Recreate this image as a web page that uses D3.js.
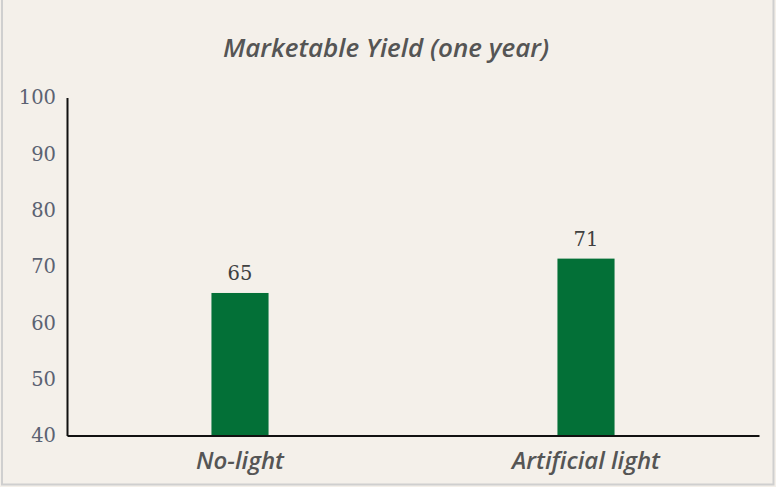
<!DOCTYPE html>
<html><head><meta charset="utf-8">
<script src="https://cdn.jsdelivr.net/npm/d3@7"></script>
<style>html,body{margin:0;padding:0;background:#f4f0ea;}svg{display:block;}</style>
</head><body>
<script>
const categories = ["No-light", "Artificial light"];
const values = [65.3, 71.4];
const valueLabels = ["65", "71"];
const yTicks = [40, 50, 60, 70, 80, 90, 100];
const title = "Marketable Yield (one year)";

const W = 776, H = 487;
const svg = d3.select("body").append("svg").attr("width", W).attr("height", H);
svg.append("rect").attr("x", 0).attr("y", -5).attr("width", W).attr("height", H + 5).attr("fill", "#f4f0ea");
svg.append("rect").attr("x", 2).attr("y", -5).attr("width", W - 4.5).attr("height", H + 2.5)
  .attr("fill", "none").attr("stroke", "#cfcfcf").attr("stroke-width", 2);

const m = {left: 67, right: 759, top: 97.5, bottom: 435.5};
const x = d3.scaleBand().domain(categories).range([m.left, m.right]).paddingInner(0.835).paddingOuter(0.4175);
const y = d3.scaleLinear().domain([40, 100]).range([m.bottom, m.top]);

svg.append("text").attr("x", 386).attr("y", 57).attr("text-anchor", "middle")
  .attr("font-family", "Open Sans").attr("font-style", "italic").attr("font-weight", 600).attr("font-size", 26)
  .attr("fill", "#555555").text(title);

// y axis
const ya = svg.append("g").attr("transform", `translate(${m.left},0)`)
  .call(d3.axisLeft(y).tickValues(yTicks).tickSize(0).tickPadding(11));
ya.select(".domain").attr("stroke", "#111").attr("stroke-width", 2);
ya.selectAll("text").attr("font-family", "DejaVu Serif").attr("font-size", 19.5).attr("fill", "#5b6272");

// bars
svg.selectAll("rect.bar").data(values).join("rect").attr("class", "bar")
  .attr("x", (d, i) => x(categories[i])).attr("width", x.bandwidth())
  .attr("y", d => y(d)).attr("height", d => y(40) - y(d))
  .attr("fill", "#037037");

svg.selectAll("text.vl").data(values).join("text").attr("class", "vl")
  .attr("x", (d, i) => x(categories[i]) + x.bandwidth() / 2).attr("y", d => y(d) - 13)
  .attr("text-anchor", "middle").attr("font-family", "DejaVu Serif").attr("font-size", 19.5)
  .attr("fill", "#404040").text((d, i) => valueLabels[i]);

// x axis
const xa = svg.append("g").attr("transform", `translate(0,${m.bottom})`)
  .call(d3.axisBottom(x).tickSize(0).tickPadding(16));
xa.select(".domain").attr("stroke", "#111").attr("stroke-width", 2);
xa.selectAll("text").attr("font-family", "Open Sans").attr("font-style", "italic").attr("font-weight", 600).attr("font-size", 24)
  .attr("fill", "#555555");
</script>
</body></html>
